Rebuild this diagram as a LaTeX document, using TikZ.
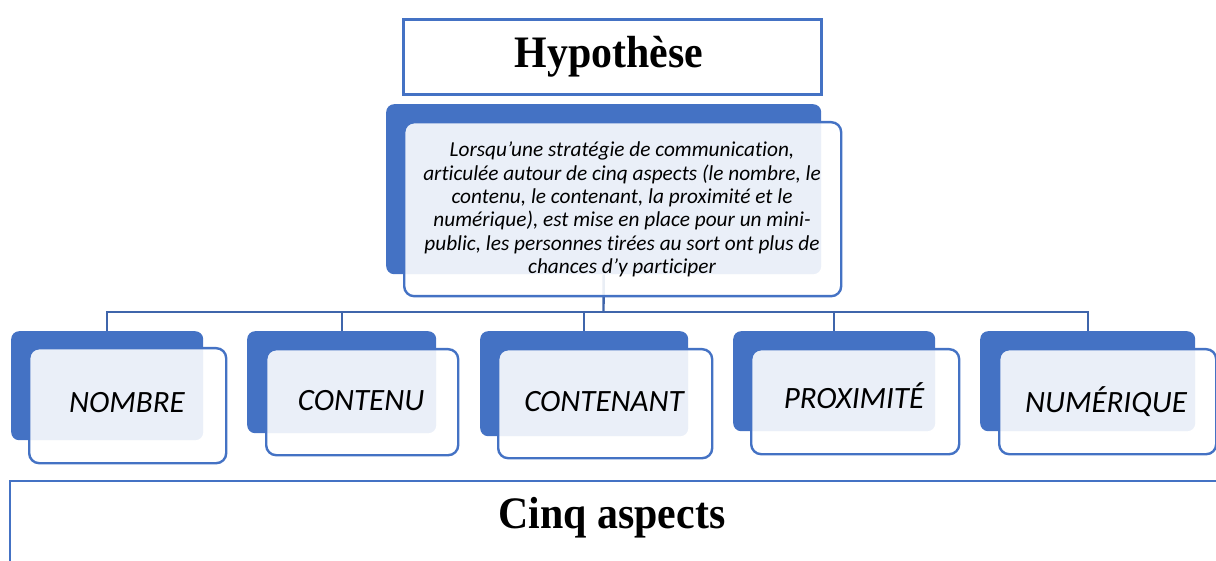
\documentclass[tikz,border=0pt]{standalone}
\usepackage{fontspec}
\newfontfamily\tnrfont{Liberation Serif}
\newfontfamily\calfont[Ligatures={NoCommon}]{Carlito}
\definecolor{accblue}{HTML}{4472C4}
\definecolor{connblue}{HTML}{3F65AB}
\tikzset{
  backbox/.style={fill=accblue, draw=none, rounded corners=8pt, anchor=north west, inner sep=0pt},
  frontbox/.style={fill=white, fill opacity=0.89, draw=accblue, draw opacity=1, line width=2.4pt, rounded corners=10pt, anchor=north west, inner sep=0pt},
  conn/.style={draw=connblue, line width=2.4pt},
  branchtext/.style={font=\calfont\itshape\fontsize{31}{35}\selectfont, anchor=base, inner sep=0pt},
  titletext/.style={font=\tnrfont\bfseries\fontsize{45}{50}\selectfont, anchor=base, inner sep=0pt},
}
\begin{document}
\begin{tikzpicture}[x=1pt,y=-1pt]
\useasboundingbox (0,0) rectangle (1216,561);
\clip (0,0) rectangle (1216,561);
% Hypothese title box
\node[draw=accblue, line width=2.6pt, minimum width=418pt, minimum height=75pt, anchor=north west, inner sep=0pt] (hypbox) at (402,18) {};
\node[titletext] (hyp) at (609,68) {\scalebox{0.93}[1]{Hypothèse}};
% central box
\node[backbox, minimum width=435pt, minimum height=170pt] (cb) at (386,104) {};
% branch back boxes
\node[backbox, minimum width=192pt, minimum height=109pt] (b1) at (11,331) {};
\node[backbox, minimum width=189pt, minimum height=102pt] (b2) at (247,331) {};
\node[backbox, minimum width=208pt, minimum height=105pt] (b3) at (480,331) {};
\node[backbox, minimum width=202pt, minimum height=100pt] (b4) at (733,331) {};
\node[backbox, minimum width=215pt, minimum height=100pt] (b5) at (980,331) {};
% connectors
\coordinate (bar) at (603.5,312);
\draw[conn] (cb.south) -- (bar);
\draw[conn] (b1.north) |- (bar) -| (b5.north);
\draw[conn] (b2.north) -- (b2.north |- bar);
\draw[conn] (b3.north) -- (b3.north |- bar);
\draw[conn] (b4.north) -- (b4.north |- bar);
% front boxes
\node[frontbox, minimum width=437pt, minimum height=174pt] (cf) at (403,121) {};
\node[frontbox, minimum width=197pt, minimum height=115pt] (f1) at (28,347) {};
\node[frontbox, minimum width=192pt, minimum height=106pt] (f2) at (265,348) {};
\node[frontbox, minimum width=214pt, minimum height=109pt] (f3) at (497,348) {};
\node[frontbox, minimum width=208pt, minimum height=105pt] (f4) at (750,348) {};
\node[frontbox, minimum width=217pt, minimum height=105pt] (f5) at (998,348) {};
% texts
\node[font=\calfont\itshape\fontsize{21.3}{23.3}\selectfont, align=center, inner sep=0pt] (ct) at (622,209.5) {Lorsqu’une stratégie de communication,\\articulée autour de cinq aspects (le nombre, le\\contenu, le contenant, la proximité et le\\numérique), est mise en place pour un mini-\\public, les personnes tirées au sort ont plus de\\chances d’y participer};
\node[branchtext] (t1) at (127,413) {NOMBRE};
\node[branchtext] (t2) at (361,410) {CONTENU};
\node[branchtext] (t3) at (604,411) {CONTENANT};
\node[branchtext] (t4) at (854,408) {PROXIMITÉ};
\node[branchtext] (t5) at (1106,412) {NUMÉRIQUE};
% bottom box
\draw[draw=accblue, line width=2.6pt] (1230,481) -- (10,481) -- (10,575);
\node[titletext] (cinq) at (612,528) {\scalebox{0.93}[1]{Cinq aspects}};
\end{tikzpicture}
\end{document}
